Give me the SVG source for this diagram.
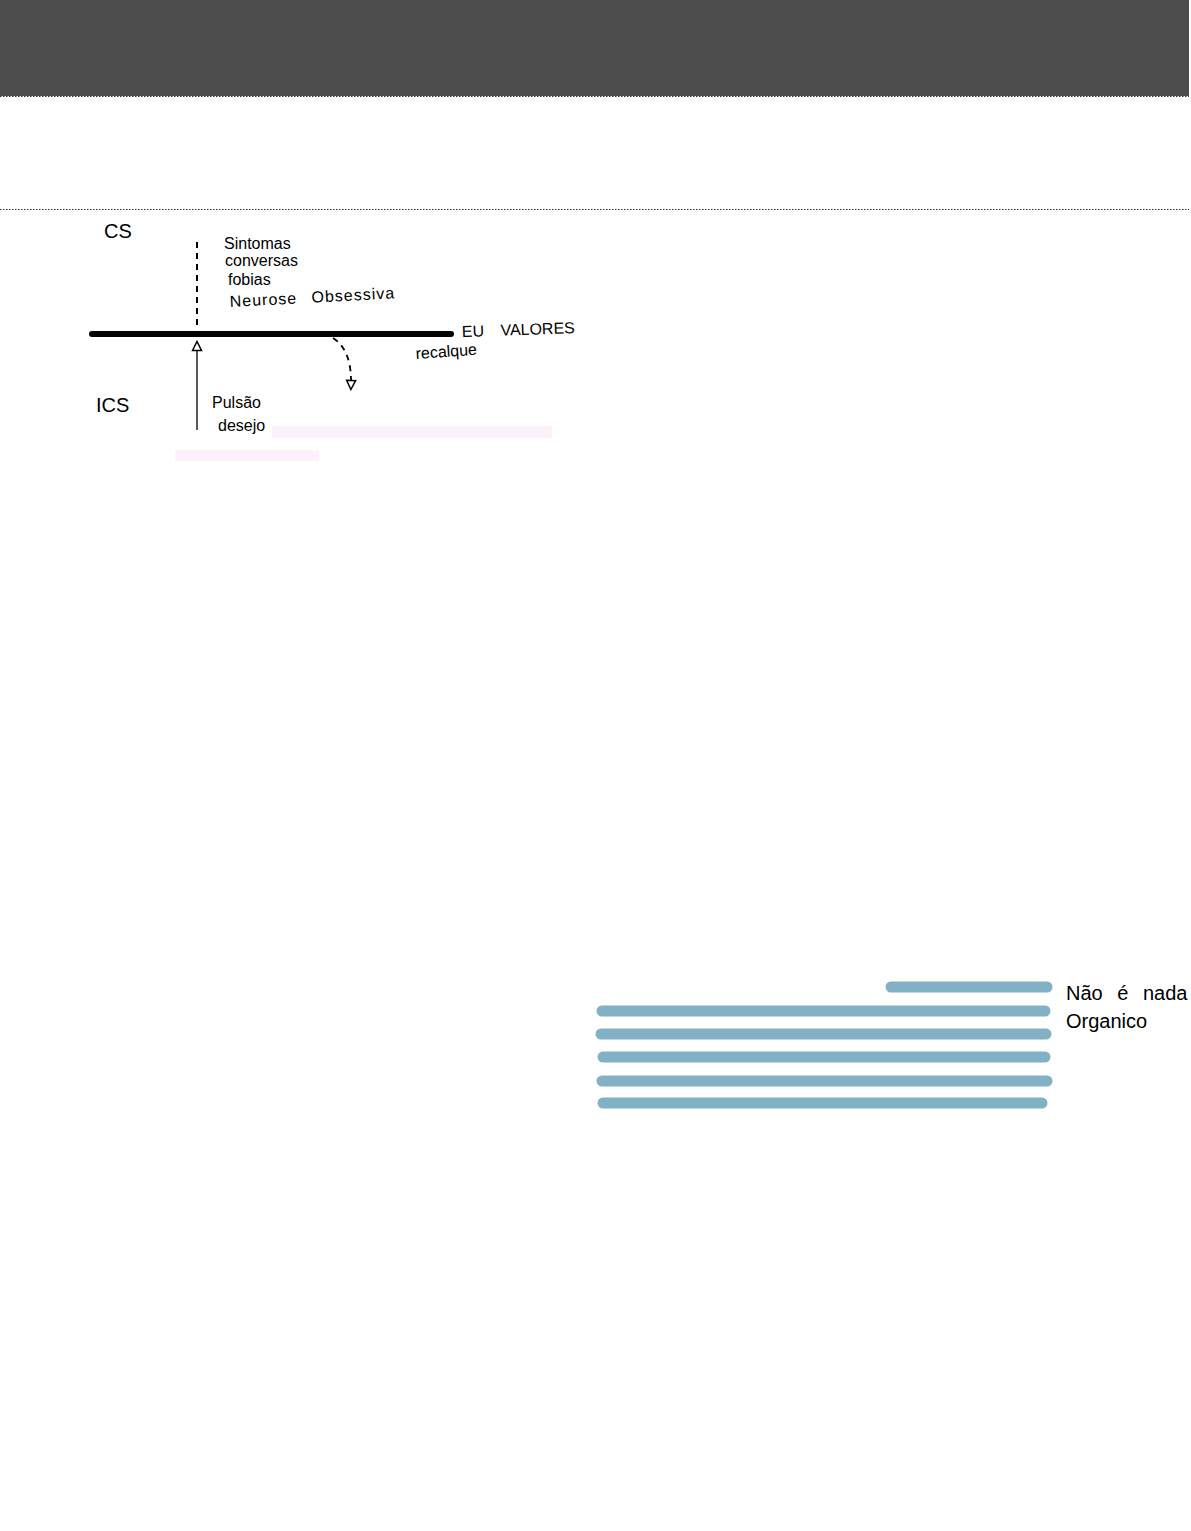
<svg xmlns="http://www.w3.org/2000/svg" width="1191" height="1531" viewBox="0 0 1191 1531">
<style>
.t{font-family:"Liberation Sans",Arial,sans-serif;font-size:16px;fill:#000}
.tb{font-family:"Liberation Sans",Arial,sans-serif;font-size:20px;fill:#000}
.dot{stroke:#333;stroke-width:1.2;stroke-dasharray:1.5 1.5}
.bar{stroke:#82b0c4;stroke-width:11;stroke-linecap:round}
.hl{fill:#fcf2fc}
</style>
<defs>
<marker id="tri" markerWidth="12" markerHeight="12" refX="6" refY="6" orient="auto" markerUnits="userSpaceOnUse">
<path d="M1.5,1.5 L10.5,6 L1.5,10.5 Z" fill="#fff" stroke="#000" stroke-width="1.5"/>
</marker>
</defs>
<rect width="1191" height="1531" fill="#fff"/>
<g id="header">
<rect x="0" y="0" width="1189" height="96" fill="#4d4d4d"/>
<line class="dot" x1="0" y1="96.5" x2="1189" y2="96.5"/>
<line class="dot" x1="0" y1="209.5" x2="1189" y2="209.5"/>
</g>
<g id="highlights">
<rect class="hl" x="272" y="426" width="280" height="12"/>
<rect class="hl" x="175" y="450" width="144" height="11"/>
</g>
<g id="connectors">
<line x1="92" y1="334" x2="451" y2="334" stroke="#000" stroke-width="6" stroke-linecap="round"/>
<line x1="197" y1="242" x2="197" y2="330" stroke="#000" stroke-width="2" stroke-dasharray="6 5"/>
<line x1="197" y1="430" x2="197" y2="346" stroke="#000" stroke-width="1.3" marker-end="url(#tri)"/>
<path d="M333,338 Q352,350 351,385" fill="none" stroke="#000" stroke-width="1.8" stroke-dasharray="6 5" marker-end="url(#tri)"/>
</g>
<g id="labels">
<text class="tb" x="104" y="238">CS</text>
<text class="t" x="224" y="249">Sintomas</text>
<text class="t" x="225" y="266">conversas</text>
<text class="t" x="228" y="285">fobias</text>
<text class="t" x="230" y="307" transform="rotate(-3 230 307)" style="letter-spacing:1px;word-spacing:9px">Neurose Obsessiva</text>
<text class="t" x="462" y="337" transform="rotate(-2 462 337)" style="word-spacing:12px">EU VALORES</text>
<text class="t" x="416" y="359" transform="rotate(-4 416 359)">recalque</text>
<text class="tb" x="96" y="412">ICS</text>
<text class="t" x="212" y="408">Pulsão</text>
<text class="t" x="218" y="431">desejo</text>
</g>
<g id="bars">
<line class="bar" x1="891" y1="987" x2="1047" y2="987"/>
<line class="bar" x1="602" y1="1011" x2="1045" y2="1011"/>
<line class="bar" x1="601" y1="1034" x2="1046" y2="1034"/>
<line class="bar" x1="603" y1="1057" x2="1045" y2="1057"/>
<line class="bar" x1="602" y1="1081" x2="1047" y2="1081"/>
<line class="bar" x1="603" y1="1103" x2="1042" y2="1103"/>
</g>
<g id="note">
<text class="tb" x="1066" y="1000" style="word-spacing:9px">Não é nada</text>
<text class="tb" x="1066" y="1028">Organico</text>
</g>
</svg>
